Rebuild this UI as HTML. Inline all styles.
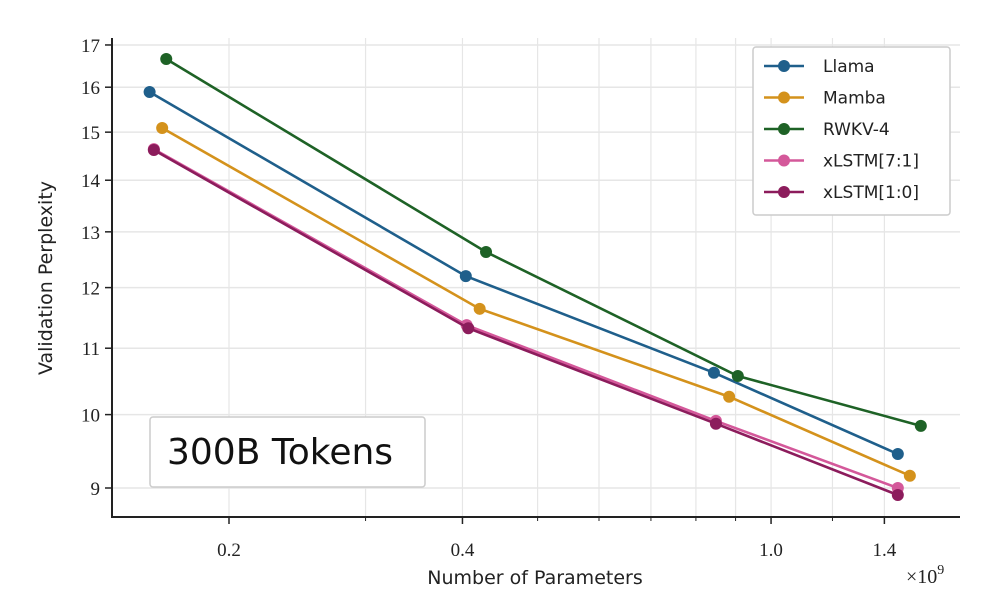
<!DOCTYPE html>
<html><head><meta charset="utf-8"><style>
body{margin:0;background:#fff;}
svg{display:block;font-family:"Liberation Serif",serif;}
.sans{font-family:"DejaVu Sans","Liberation Sans",sans-serif;}
</style></head><body>
<svg id="chart" width="999" height="609"></svg>
<script>
const seriesNames=["Llama","Mamba","RWKV-4","xLSTM[7:1]","xLSTM[1:0]"];
const seriesColors=["#1f5f8b","#d4921c","#1e6226","#d4589a","#8c1c5c"];
const llamaX=[0.158,0.404,0.844,1.457];
const llamaY=[15.89,12.20,10.62,9.45];
const mambaX=[0.164,0.421,0.883,1.51];
const mambaY=[15.09,11.64,10.26,9.16];
const rwkvX=[0.166,0.429,0.906,1.56];
const rwkvY=[16.66,12.63,10.57,9.84];
const x71X=[0.160,0.405,0.849,1.457];
const x71Y=[14.64,11.37,9.91,9.0];
const x10X=[0.160,0.407,0.849,1.457];
const x10Y=[14.62,11.32,9.87,8.91];
const yTicks=[9,10,11,12,13,14,15,16,17];
const xTicks=[0.2,0.4,1.0,1.4];
const xTickLabels=["0.2","0.4","1.0","1.4"];
const xMinor=[0.3,0.5,0.6,0.7,0.8,0.9,1.2];

const NS="http://www.w3.org/2000/svg";
const svg=document.getElementById('chart');
const L=112,R=960,T=38,B=517;
function xs(v){return 229+336.8*Math.log(v/0.2);}
function ys(v){return 488-696.6*Math.log(v/9);}
function el(tag,attrs,parent){const e=document.createElementNS(NS,tag);for(const k in attrs)e.setAttribute(k,attrs[k]);(parent||svg).appendChild(e);return e;}

yTicks.forEach(t=>{const g=el('line',{x1:L,x2:R,y1:ys(t),y2:ys(t),stroke:'#e6e6e6','stroke-width':1.5});

});
xTicks.concat(xMinor).forEach(t=>{const g=el('line',{x1:xs(t),x2:xs(t),y1:T,y2:B,stroke:'#e6e6e6','stroke-width':1.2});

});

const ax=el('path',{d:`M${L} ${T} V${B} H${R}`,stroke:'#222',fill:'none','stroke-width':2});


yTicks.forEach(t=>{el('line',{x1:L-7,x2:L,y1:ys(t),y2:ys(t),stroke:'#222','stroke-width':1.5});
const tx=el('text',{x:L-12,y:ys(t)+7,'text-anchor':'end','font-size':19,fill:'#222'});tx.textContent=t;

});
xTicks.forEach((t,i)=>{el('line',{x1:xs(t),x2:xs(t),y1:B,y2:B+7,stroke:'#222','stroke-width':1.5});
const tx=el('text',{x:xs(t),y:B+39,'text-anchor':'middle','font-size':19,fill:'#222'});tx.textContent=xTickLabels[i];

});
xMinor.forEach(t=>el('line',{x1:xs(t),x2:xs(t),y1:B,y2:B+4,stroke:'#222','stroke-width':1}));

let t=el('text',{x:535,y:584,'text-anchor':'middle','font-size':19,fill:'#222',class:'sans'});t.textContent='Number of Parameters';


t=el('text',{x:0,y:0,'text-anchor':'middle','font-size':19,fill:'#222',class:'sans',transform:'translate(52,278) rotate(-90)'});t.textContent='Validation Perplexity';


t=el('text',{x:906,y:583,'font-size':20,fill:'#222'});t.innerHTML='×10<tspan dy="-9" font-size="14">9</tspan>';



const ab=el('rect',{x:150,y:417,width:275,height:70,rx:3,fill:'#fff',stroke:'#ccc','stroke-width':1.5});


t=el('text',{x:167,y:464,'font-size':36,fill:'#111',class:'sans'});t.textContent='300B Tokens';



const allX=[llamaX,mambaX,rwkvX,x71X,x10X],allY=[llamaY,mambaY,rwkvY,x71Y,x10Y];
allX.forEach((xa,i)=>{
 const g=el('g',{});
 
 
 const d=xa.map((v,j)=>(j?'L':'M')+xs(v)+' '+ys(allY[i][j])).join(' ');
 el('path',{d:d,stroke:seriesColors[i],'stroke-width':2.6,fill:'none'},g);
 xa.forEach((v,j)=>{const c=el('circle',{cx:xs(v),cy:ys(allY[i][j]),r:6,fill:seriesColors[i]},g);
 
 });
});

const lg=el('g',{});


el('rect',{x:753,y:47,width:197,height:168,rx:3,fill:'#fff',stroke:'#ccc','stroke-width':1.5},lg);
seriesNames.forEach((n,i)=>{
 const y=66+i*31.5;
 const e=el('g',{},lg);
 
 
 el('line',{x1:764,x2:804,y1:y,y2:y,stroke:seriesColors[i],'stroke-width':2.6},e);
 el('circle',{cx:784,cy:y,r:6,fill:seriesColors[i]},e);
 const tx=el('text',{x:823,y:y+6,'font-size':17,fill:'#222',class:'sans'},e);tx.textContent=n;
});
</script>
</body></html>
